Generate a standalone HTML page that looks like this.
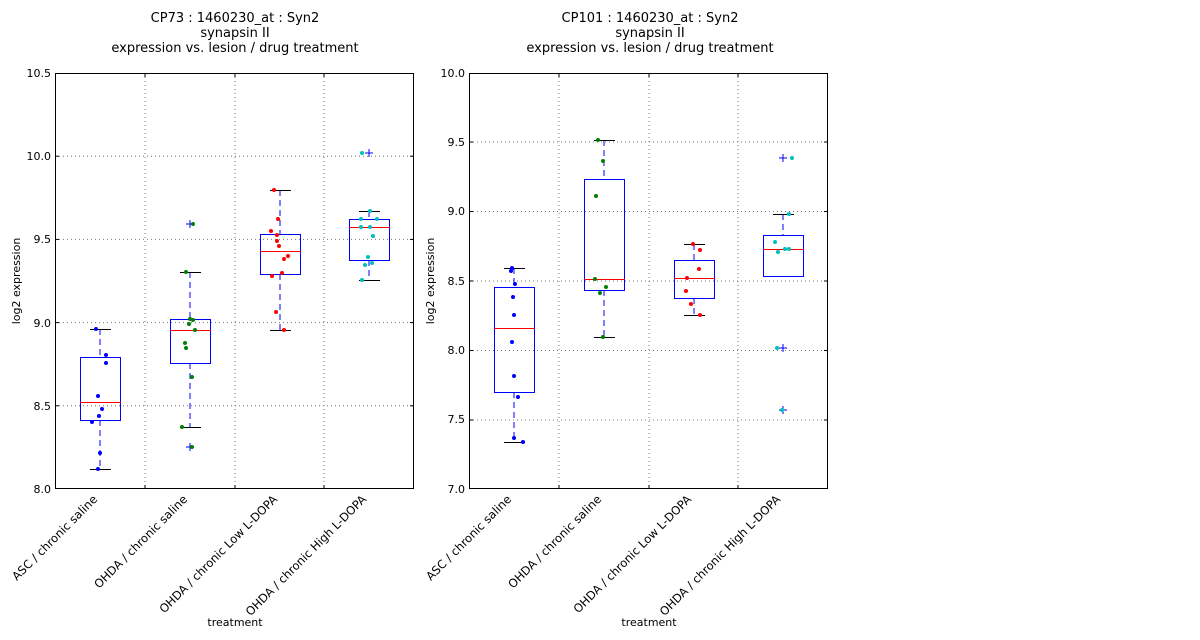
<!DOCTYPE html>
<html><head><meta charset="utf-8"><style>
body{margin:0;background:#fff;}
svg{display:block;font-family:"DejaVu Sans","Liberation Sans",sans-serif;}
</style></head><body>
<svg id="s" width="1200" height="640" xmlns="http://www.w3.org/2000/svg">
<rect width="1200" height="640" fill="#fff"/>
<g font-size="13" text-anchor="middle" fill="#000">
<text x="235" y="22">CP73 : 1460230_at : Syn2</text>
<text x="235" y="37">synapsin II</text>
<text x="235" y="52">expression vs. lesion / drug treatment</text>
<text x="650" y="22">CP101 : 1460230_at : Syn2</text>
<text x="650" y="37">synapsin II</text>
<text x="650" y="52">expression vs. lesion / drug treatment</text>
</g>
<g font-size="11" text-anchor="end">
<text x="51" y="77">10.5</text><text x="51" y="160">10.0</text><text x="51" y="243">9.5</text><text x="51" y="327">9.0</text><text x="51" y="410">8.5</text><text x="51" y="493">8.0</text>
<text x="465" y="77">10.0</text><text x="465" y="146">9.5</text><text x="465" y="215">9.0</text><text x="465" y="285">8.5</text><text x="465" y="354">8.0</text><text x="465" y="423">7.5</text><text x="465" y="493">7.0</text>
</g>
<g font-size="11" text-anchor="middle">
<text transform="translate(20,281) rotate(-90)">log2 expression</text>
<text transform="translate(434,281) rotate(-90)">log2 expression</text>
<text x="235" y="626">treatment</text>
<text x="649" y="626">treatment</text>
</g>
<g font-size="11.6" text-anchor="end">
<text transform="translate(98,500) rotate(-45)">ASC / chronic saline</text>
<text transform="translate(188,500) rotate(-45)">OHDA / chronic saline</text>
<text transform="translate(278,500) rotate(-45)">OHDA / chronic Low L-DOPA</text>
<text transform="translate(367,500) rotate(-45)">OHDA / chronic High L-DOPA</text>
<text transform="translate(512,500) rotate(-45)">ASC / chronic saline</text>
<text transform="translate(602,500) rotate(-45)">OHDA / chronic saline</text>
<text transform="translate(692,500) rotate(-45)">OHDA / chronic Low L-DOPA</text>
<text transform="translate(781,500) rotate(-45)">OHDA / chronic High L-DOPA</text>
</g>
<g id="plot"></g>
</svg>
<script>
var NS="http://www.w3.org/2000/svg",g=document.getElementById("plot");
function el(t,a){var e=document.createElementNS(NS,t);for(var k in a)e.setAttribute(k,a[k]);g.appendChild(e);return e;}
function line(x1,y1,x2,y2,c,w,d){var a={x1:x1,y1:y1,x2:x2,y2:y2,stroke:c,"stroke-width":w||1};if(d)a["stroke-dasharray"]=d;el("line",a);}
function axes(x0,x1,ys,xs){
 ys.forEach(function(y){line(x0,y,x1,y,"#777",1,"1,3");line(x0,y,x0+4,y,"#000");line(x1-4,y,x1,y,"#000");});
 xs.forEach(function(x){line(x,73,x,489,"#777",1,"1,3");line(x,489,x,485,"#000");line(x,73,x,77,"#000");});
 el("rect",{x:x0+0.5,y:73.5,width:x1-x0-1,height:415,fill:"none",stroke:"#000","stroke-width":1});
}
axes(55,414,[156.2,239.4,322.6,405.8],[145,235,324]);
axes(469,828,[142,211.5,281,350.5,420],[559,649,738]);
function box(c,top,bot,med,wt,wb,col,pts,outs){
 line(c,wt,c,top,"#00f",1,"6,4");line(c,bot,c,wb,"#00f",1,"6,4");
 line(c-10,wt+0.5,c+11,wt+0.5,"#000");line(c-10,wb+0.5,c+11,wb+0.5,"#000");
 el("rect",{x:c-20+0.5,y:top+0.5,width:40,height:bot-top,fill:"none",stroke:"#00f","stroke-width":1});
 line(c-20,med+0.5,c+21,med+0.5,"#f00");
 (outs||[]).forEach(function(y){line(c-4,y,c+4,y,"#00f");line(c,y-4,c,y+4,"#00f");});
 pts.forEach(function(p){el("circle",{cx:p[0],cy:p[1],r:2,fill:col});});
}
box(100,357,420,402,329,469,"#0000ff",[[96,329],[106,355],[106,363],[98,396],[102,409],[99,416],[92,422],[100,453],[98,469]]);
box(190,319,363,330,272,427,"#008000",[[193,224],[186,272],[190,319],[193,320],[189,324],[195,330],[185,343],[186,348],[192,377],[182,427],[192,447]],[224,447]);
box(280,234,274,251,190,330,"#ff0000",[[274,190],[278,219],[271,231],[277,235],[277,241],[279,246],[284,259],[288,256],[272,276],[282,273],[276,312],[284,330]]);
box(369,219,260,227,211,280,"#00bfbf",[[362,153],[370,211],[361,219],[377,219],[361,227],[370,227],[373,236],[368,257],[365,265],[372,263],[362,280]],[153]);
box(514,287,392,328,268,442,"#0000ff",[[512,268],[511,271],[515,284],[513,297],[514,315],[512,342],[514,376],[518,397],[514,438],[523,442]]);
box(604,179,290,279,140,337,"#008000",[[598,140],[603,161],[596,196],[595,279],[606,287],[600,293],[603,337]]);
box(694,260,298,278,244,315,"#ff0000",[[693,244],[700,250],[699,269],[687,278],[686,291],[691,304],[700,315]]);
box(783,235,276,249,214,276,"#00bfbf",[[792,158],[789,214],[775,242],[778,252],[785,249],[789,249],[777,348],[782,410]],[158,348,410]);
</script>
</body></html>
